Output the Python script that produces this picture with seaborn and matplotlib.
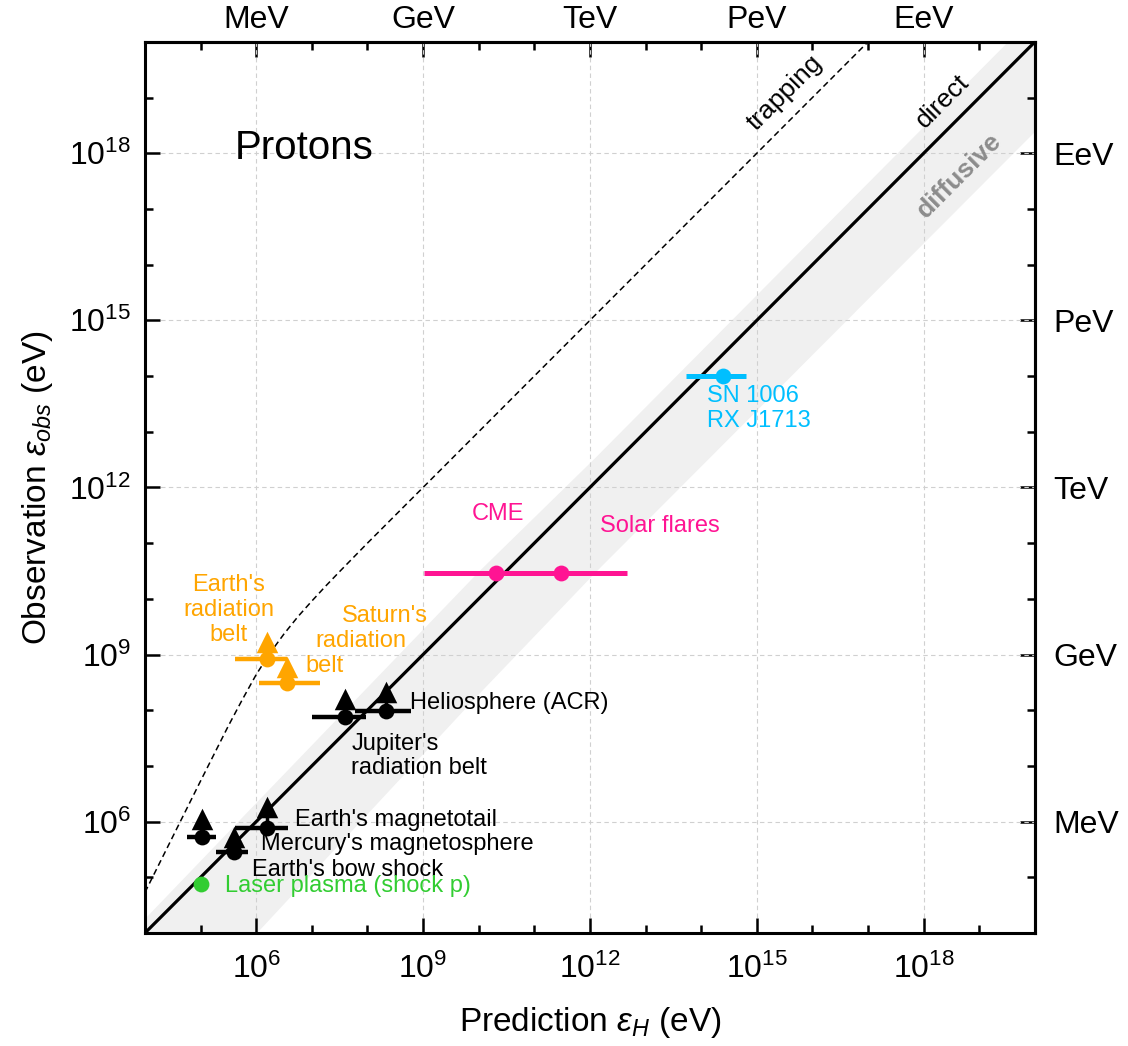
import matplotlib
matplotlib.use("Agg")
import matplotlib.pyplot as plt
import numpy as np
import pandas as pd
import seaborn as sns
from matplotlib.ticker import NullFormatter

# --- values (log10 of energy in eV) ---
black_names = ["Earth's magnetotail", "Mercury's magnetosphere", "Earth's bow shock",
               "Jupiter's radiation belt", "Heliosphere (ACR)"]
black_x = [6.20, 5.03, 5.60, 7.59, 8.34]
black_y = [5.89, 5.72, 5.45, 7.88, 7.99]
black_xlo = [5.62, 4.75, 5.27, 7.01, 7.77]
black_xhi = [6.58, 5.27, 5.86, 7.97, 8.79]
black_lim = [6.27, 6.04, 5.73, 8.21, 8.32]

orange_names = ["Earth's radiation belt", "Saturn's radiation belt"]
orange_x = [6.20, 6.56]
orange_y = [8.92, 8.48]
orange_xlo = [5.62, 6.05]
orange_xhi = [6.56, 7.15]
orange_lim = [9.23, 8.78]

pink_names = ["CME", "Solar flares"]
pink_x = [10.31, 11.48]
pink_y = [10.47, 10.47]
pink_xlo = [9.01, 10.31]
pink_xhi = [11.48, 12.66]

cyan_x = [14.39]
cyan_y = [14.00]
cyan_xlo = [13.73]
cyan_xhi = [14.80]

laser_x = [5.00]
laser_y = [4.88]

trap_logx = [4.0, 4.5, 5.0, 5.5, 5.75, 6.0, 6.25, 6.5, 6.75, 7.0, 7.25, 7.5, 8.0, 9.0, 17.0]
trap_logy = [4.73, 5.73, 6.73, 7.72, 8.19, 8.64, 9.03, 9.37, 9.68, 9.96, 10.23, 10.49, 11.0, 12.0, 20.0]

band_logx = [4.0, 6.0, 10.0, 12.1, 20.0]
band_hi = [4.27, 6.35, 10.5, 12.55, 20.5]
band_lo = [1.90, 4.0, 8.3, 10.49, 18.4]

diag = [1e4, 1e20]
major = [6, 9, 12, 15, 18]
minor = [4, 5, 7, 8, 10, 11, 13, 14, 16, 17, 19]
units = ["MeV", "GeV", "TeV", "PeV", "EeV"]

ORANGE = "#FFA500"
PINK = "#FF1493"
CYAN = "#00BFFF"
GREEN = "#32CD32"

sns.set_style("ticks")
plt.rcParams["font.family"] = ["Liberation Sans", "DejaVu Sans"]
plt.rcParams["mathtext.fontset"] = "custom"
plt.rcParams["mathtext.rm"] = "Liberation Sans"
plt.rcParams["mathtext.it"] = "Liberation Sans:italic"
for key in ["text.color", "axes.labelcolor", "xtick.color", "ytick.color", "axes.edgecolor"]:
    plt.rcParams[key] = "black"

fig = plt.figure(figsize=(11.28, 10.46), dpi=100)
ax = fig.add_axes([0.1285, 0.108, 0.789, 0.852])
ax.set_xscale("log")
ax.set_yscale("log")
ax.set_xlim(1e4, 1e20)
ax.set_ylim(1e4, 1e20)

p = lambda v: 10.0 ** np.asarray(v)

# diffusive band, direct line, trapping curve
ax.fill_between(p(band_logx), p(band_lo), p(band_hi), color="#f0f0f0", lw=0, zorder=0)
ax.plot(diag, diag, color="black", lw=2.3, zorder=2)
trap = pd.DataFrame({"x": p(trap_logx), "y": p(trap_logy)})
sns.lineplot(data=trap, x="x", y="y", ax=ax, color="black", lw=1.1,
             linestyle=(0, (4, 2.5)), sort=False, zorder=2)


def points(xs, ys, xlo, xhi, color, lim=None, lw=3.2):
    ax.hlines(p(ys), p(xlo), p(xhi), color=color, lw=lw, zorder=3)
    if lim is not None:
        ax.vlines(p(xs), p(ys), p(lim), color=color, lw=2.5, zorder=3)
        ax.scatter(p(xs), p(lim), marker="^", s=240, color=color, lw=0, zorder=4)
    df = pd.DataFrame({"x": p(xs), "y": p(ys)})
    sns.scatterplot(data=df, x="x", y="y", ax=ax, color=color, s=130,
                    linewidth=0, zorder=5)


points(black_x, black_y, black_xlo, black_xhi, "black", black_lim)
points(orange_x, orange_y, orange_xlo, orange_xhi, ORANGE, orange_lim)
points(pink_x, pink_y, pink_xlo, pink_xhi, PINK, lw=3.6)
points(cyan_x, cyan_y, cyan_xlo, cyan_xhi, CYAN, lw=3.6)
sns.scatterplot(x=p(laser_x), y=p(laser_y), ax=ax, color=GREEN, s=130,
                linewidth=0, zorder=5)

# labels
fs = 17
ax.text(10**6.70, 10**6.03, "Earth's magnetotail", fontsize=fs, va="center")
ax.text(10**6.09, 10**5.60, "Mercury's magnetosphere", fontsize=fs, va="center")
ax.text(10**5.93, 10**5.14, "Earth's bow shock", fontsize=fs, va="center")
ax.text(10**5.44, 10**4.85, "Laser plasma (shock p)", fontsize=fs, va="center", color=GREEN)
ax.text(10**8.77, 10**8.13, "Heliosphere (ACR)", fontsize=fs, va="center")
ax.text(10**7.71, 10**7.18, "Jupiter's\nradiation belt", fontsize=fs, va="center",
        linespacing=1.15)
ax.text(10**5.51, 10**9.80, "Earth's\nradiation\nbelt", fontsize=fs, va="center",
        ha="center", color=ORANGE, linespacing=1.15)
ax.text(10**8.31, 10**9.70, "Saturn's", fontsize=fs, va="center", ha="center", color=ORANGE)
ax.text(10**7.89, 10**9.25, "radiation", fontsize=fs, va="center", ha="center", color=ORANGE)
ax.text(10**7.23, 10**8.80, "belt", fontsize=fs, va="center", ha="center", color=ORANGE)
ax.text(10**10.34, 10**11.52, "CME", fontsize=fs, va="center", ha="center", color=PINK)
ax.text(10**12.18, 10**11.30, "Solar flares", fontsize=fs, va="center", color=PINK)
ax.text(10**14.1, 10**13.42, "SN 1006\nRX J1713", fontsize=fs, va="center", color=CYAN,
        linespacing=1.15)
ax.text(10**15.5, 10**19.08, "trapping", fontsize=19, rotation=45, ha="center", va="center")
ax.text(10**18.35, 10**18.93, "direct", fontsize=19, rotation=45, ha="center", va="center")
ax.text(10**18.65, 10**17.6, "diffusive", fontsize=19, rotation=45, ha="center", va="center",
        color="#8c8c8c", fontweight="bold")
ax.text(10**6.86, 10**18.09, "Protons", fontsize=29, ha="center", va="center")

# axes, ticks, grid
ax.set_xticks(p(major), [f"$10^{{{m}}}$" for m in major])
ax.set_yticks(p(major), [f"$10^{{{m}}}$" for m in major])
ax.set_xticks(p(minor), minor=True)
ax.set_yticks(p(minor), minor=True)
ax.xaxis.set_minor_formatter(NullFormatter())
ax.yaxis.set_minor_formatter(NullFormatter())
ax.grid(True, which="major", color="#d0d0d0", ls=(0, (4, 3)), lw=0.8, zorder=1)
ax.set_axisbelow(True)
ax.tick_params(which="both", direction="in", width=1.8, labelsize=23, pad=10,
               bottom=True, left=True)
ax.tick_params(axis="x", which="major", pad=15)
ax.tick_params(which="major", length=11)
ax.tick_params(which="minor", length=6)
for s in ax.spines.values():
    s.set_linewidth(2.2)
    s.set_visible(True)

top = ax.secondary_xaxis("top")
top.set_xticks(p(major), units)
top.set_xticks(p(minor), minor=True)
top.xaxis.set_minor_formatter(NullFormatter())
top.tick_params(which="both", direction="in", width=1.8, labelsize=23, pad=5)
top.tick_params(which="major", length=11)
top.tick_params(which="minor", length=6)
right = ax.secondary_yaxis("right")
right.set_yticks(p(major), units)
right.set_yticks(p(minor), minor=True)
right.yaxis.set_minor_formatter(NullFormatter())
right.tick_params(which="both", direction="in", width=1.8, labelsize=23, pad=13)
right.tick_params(which="major", length=11)
right.tick_params(which="minor", length=6)
for sec in (top, right):
    for s in sec.spines.values():
        s.set_linewidth(2.2)

ax.set_xlabel(r"Prediction $\varepsilon_H$ (eV)", fontsize=24, labelpad=14)
ax.set_ylabel(r"Observation $\varepsilon_{obs}$ (eV)", fontsize=24, labelpad=10)

fig.savefig("out.png", dpi=100)
